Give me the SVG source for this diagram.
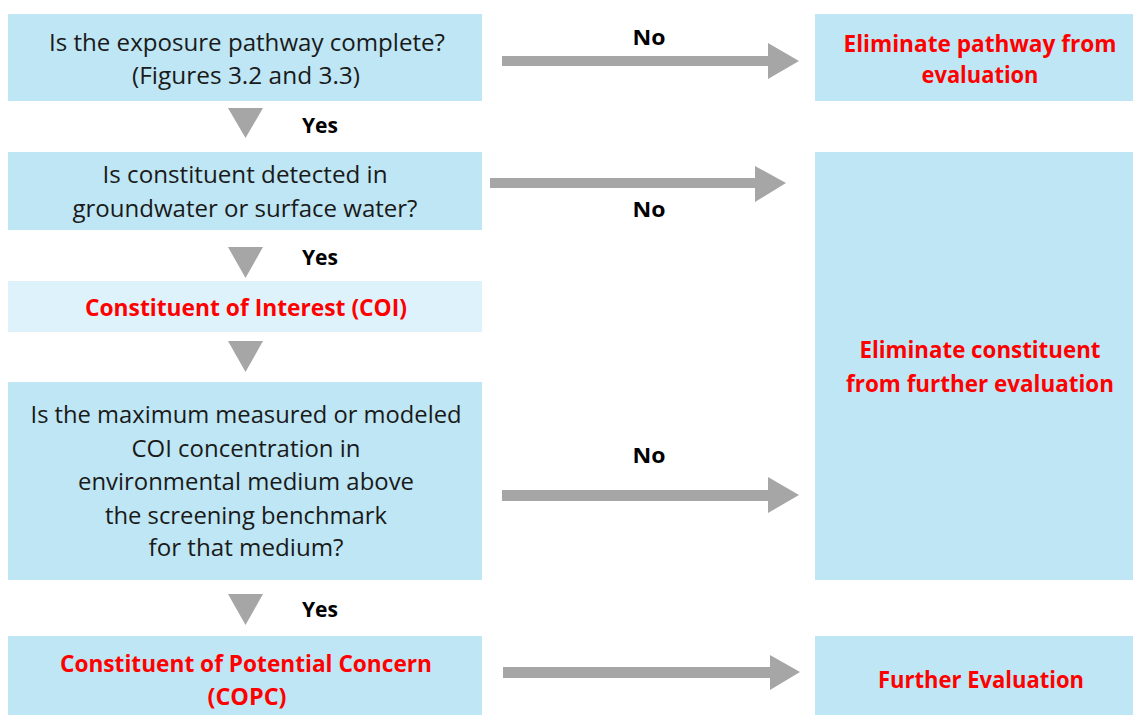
<svg xmlns="http://www.w3.org/2000/svg" width="1133" height="715" viewBox="0 0 1133 715">
<style>
.box{fill:#BEE6F4}
.light{fill:#DDF2FA}
.q{font-family:"Open Sans","Liberation Sans",sans-serif;font-size:23px;fill:#1a1a1a;text-anchor:middle}
.r{font-family:"Open Sans","Liberation Sans",sans-serif;font-size:23px;font-weight:bold;fill:#FF0000;text-anchor:middle}
.lbl{font-family:"Open Sans","Liberation Sans",sans-serif;font-size:22px;font-weight:bold;fill:#000;text-anchor:middle}
.arr{fill:#A6A6A6}
</style>
<rect width="1133" height="715" fill="#ffffff"/>
<g id="connectors">
<polygon class="arr" points="502,56 768,56 768,43 799,61 768,79 768,66 502,66"/>
<polygon class="arr" points="490,178 755,178 755,166 786,183 755,202 755,188 490,188"/>
<polygon class="arr" points="502,490 768,490 768,477 799,495 768,513 768,501 502,501"/>
<polygon class="arr" points="503,667 770,667 770,655 800,672 770,690 770,678 503,678"/>
<polygon class="arr" points="228,108 263,108 245.5,138"/>
<polygon class="arr" points="228,247 263,247 245.5,278"/>
<polygon class="arr" points="228,341 263,341 245.5,372"/>
<polygon class="arr" points="228,594 263,594 245.5,625"/>
<text class="lbl" x="649" y="45" textLength="33" lengthAdjust="spacingAndGlyphs">No</text>
<text class="lbl" x="649" y="217" textLength="33" lengthAdjust="spacingAndGlyphs">No</text>
<text class="lbl" x="649" y="463" textLength="33" lengthAdjust="spacingAndGlyphs">No</text>
<text class="lbl" x="320" y="133" textLength="36" lengthAdjust="spacingAndGlyphs">Yes</text>
<text class="lbl" x="320" y="265" textLength="36" lengthAdjust="spacingAndGlyphs">Yes</text>
<text class="lbl" x="320" y="617" textLength="36" lengthAdjust="spacingAndGlyphs">Yes</text>
</g>
<g id="q1">
<rect class="box" x="8" y="14" width="474" height="87"/>
<text class="q" x="247" y="51" textLength="396" lengthAdjust="spacingAndGlyphs">Is the exposure pathway complete?</text>
<text class="q" x="246" y="84" textLength="228" lengthAdjust="spacingAndGlyphs">(Figures 3.2 and 3.3)</text>
</g>
<g id="elim-pathway">
<rect class="box" x="815" y="14" width="318" height="87"/>
<text class="r" x="980" y="52" textLength="273" lengthAdjust="spacingAndGlyphs">Eliminate pathway from</text>
<text class="r" x="980" y="83" textLength="117" lengthAdjust="spacingAndGlyphs">evaluation</text>
</g>
<g id="q2">
<rect class="box" x="8" y="152" width="474" height="78"/>
<text class="q" x="245" y="183" textLength="285" lengthAdjust="spacingAndGlyphs">Is constituent detected in</text>
<text class="q" x="245" y="217" textLength="345" lengthAdjust="spacingAndGlyphs">groundwater or surface water?</text>
</g>
<g id="coi">
<rect class="light" x="8" y="281" width="474" height="51"/>
<text class="r" x="246" y="316" textLength="322" lengthAdjust="spacingAndGlyphs">Constituent of Interest (COI)</text>
</g>
<g id="elim-constituent">
<rect class="box" x="815" y="152" width="318" height="428"/>
<text class="r" x="980" y="358" textLength="241" lengthAdjust="spacingAndGlyphs">Eliminate constituent</text>
<text class="r" x="980" y="392" textLength="268" lengthAdjust="spacingAndGlyphs">from further evaluation</text>
</g>
<g id="q3">
<rect class="box" x="8" y="382" width="474" height="198"/>
<text class="q" x="246" y="423" textLength="431" lengthAdjust="spacingAndGlyphs">Is the maximum measured or modeled</text>
<text class="q" x="246" y="457" textLength="229" lengthAdjust="spacingAndGlyphs">COI concentration in</text>
<text class="q" x="246" y="490" textLength="336" lengthAdjust="spacingAndGlyphs">environmental medium above</text>
<text class="q" x="246" y="524" textLength="282" lengthAdjust="spacingAndGlyphs">the screening benchmark</text>
<text class="q" x="246" y="556" textLength="195" lengthAdjust="spacingAndGlyphs">for that medium?</text>
</g>
<g id="copc">
<rect class="box" x="8" y="636" width="474" height="79"/>
<text class="r" x="246" y="672" textLength="372" lengthAdjust="spacingAndGlyphs">Constituent of Potential Concern</text>
<text class="r" x="247" y="705" textLength="79" lengthAdjust="spacingAndGlyphs">(COPC)</text>
</g>
<g id="further">
<rect class="box" x="815" y="636" width="318" height="79"/>
<text class="r" x="981" y="688" textLength="206" lengthAdjust="spacingAndGlyphs">Further Evaluation</text>
</g>
</svg>
